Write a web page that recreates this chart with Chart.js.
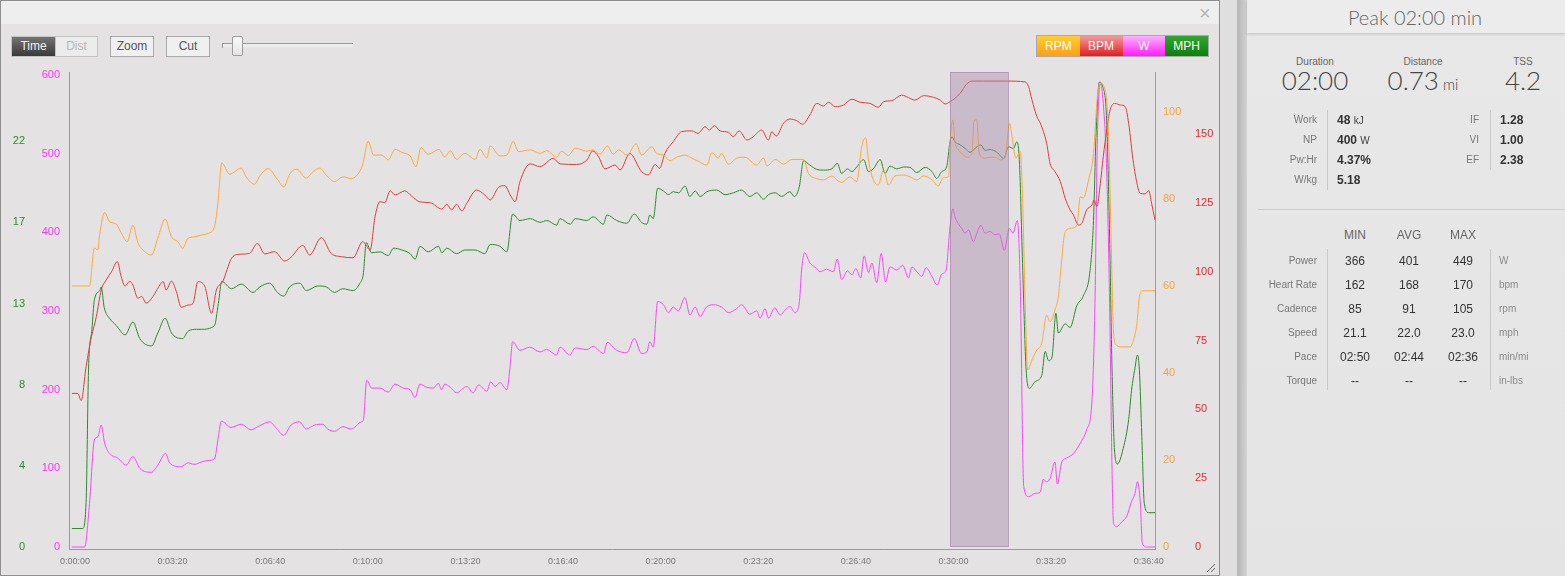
<!DOCTYPE html>
<html>
<head>
<meta charset="utf-8">
<script src="https://cdn.jsdelivr.net/npm/chart.js@4.4.1/dist/chart.umd.min.js"></script>
<style>
  * { box-sizing: border-box; }
  html, body { margin: 0; padding: 0; width: 1565px; height: 576px; overflow: hidden; background: #dedede; font-family: "Liberation Sans", Arial, sans-serif; }
  .abs { position: absolute; }
  .t { position: absolute; white-space: nowrap; line-height: 1; }
  #panel { left: 0; top: 0; width: 1220px; height: 576px; border: 1px solid #8f8f8f; background: #e4e2e3; }
  #topbar { left: 1px; top: 1px; width: 1218px; height: 23px; background: #eeeeee; }
  #closeX { left: 1199px; top: 3px; font-size: 20px; color: #b4b4b4; }
  .btn { position: absolute; top: 36px; height: 21px; width: 44px; font-size: 12px; text-align: center; line-height: 19px; }
  #bTime { left: 11px; background: linear-gradient(#747474, #3a3a3a); color: #f2f2f2; border: 1px solid #c4c4c4; border-right: none; }
  #bDist { left: 55px; width: 43px; background: #ececec; color: #b8b8b8; border: 1px solid #c4c4c4; }
  #bZoom { left: 110px; background: #f0f0f0; color: #555; border: 1px solid #a9a9a9; }
  #bCut { left: 166px; background: #f0f0f0; color: #555; border: 1px solid #a9a9a9; }
  #track { left: 222px; top: 43px; width: 131px; height: 4px; border-top: 1px solid #9a9a9a; background: #ececec; }
  #trackTick { left: 222px; top: 43px; width: 1px; height: 5px; background: #9a9a9a; }
  #handle { left: 232px; top: 36px; width: 11px; height: 20px; background: linear-gradient(#fbfbfb, #e4e4e4); border: 1px solid #9c9c9c; border-radius: 2px; }
  #legend { left: 1036px; top: 35px; width: 173px; height: 22px; border: 1px solid #aaaaaa; display: flex; }
  #legend div { width: 43px; height: 20px; font-size: 12px; color: #ffffff; text-align: center; line-height: 20px; }
  #lgRpm { background: linear-gradient(#ffcd30, #ffa015); }
  #lgBpm { background: linear-gradient(#f29a9a, #e31e1e); }
  #lgW { background: linear-gradient(#ffb0ff, #ff1cff); }
  #lgMph { background: linear-gradient(#2ea82e, #0f7d0f); }
  #grip { left: 1205px; top: 562px; width: 10px; height: 10px; background: repeating-linear-gradient(135deg, transparent 0 2px, #666 2px 3px); clip-path: polygon(100% 0, 100% 100%, 0 100%); }
  #chartBox { left: 0; top: 62px; width: 1219px; height: 513px; }
  #gap { left: 1220px; top: 0; width: 17px; height: 576px; background: #dfdfdf; }
  #strip { left: 1237px; top: 0; width: 10px; height: 576px; background: linear-gradient(to right, #b4b4b4, #d4d4d4); }
  #side { left: 1247px; top: 0; width: 318px; height: 576px; background: linear-gradient(#e8e8e8, #e4e4e4); }
  #sideHead { left: 1247px; top: 0; width: 318px; height: 33px; background: #ececec; box-shadow: 0 1px 3px rgba(0,0,0,0.18); }
  .thin { font-family: "Lato", "Liberation Sans", Arial, sans-serif; font-weight: 300; }
  .lbl { color: #777; font-size: 10px; }
  .big { color: #444; font-size: 26px; }
  .val { color: #333; font-size: 12px; font-weight: bold; }
  .unit { font-size: 10px; font-weight: normal; color: #444; }
  .vl { position: absolute; width: 1px; background: #c9c9c9; }
  .hd { color: #666; font-size: 12px; }
  .cell { color: #333; font-size: 12px; }
  .u { color: #8a8a8a; font-size: 10px; }
</style>
</head>
<body>
<div id="panel" class="abs"></div>
<div id="topbar" class="abs"></div>
<div id="closeX" class="t">×</div>

<div id="bTime" class="btn">Time</div>
<div id="bDist" class="btn">Dist</div>
<div id="bZoom" class="btn">Zoom</div>
<div id="bCut" class="btn">Cut</div>
<div id="track" class="abs"></div>
<div id="trackTick" class="abs"></div>
<div id="handle" class="abs"></div>

<div id="legend" class="abs">
  <div id="lgRpm">RPM</div><div id="lgBpm">BPM</div><div id="lgW">W</div><div id="lgMph">MPH</div>
</div>

<div id="chartBox" class="abs"><canvas id="c" width="1219" height="513"></canvas></div>
<div id="grip" class="abs"></div>

<div id="gap" class="abs"></div>
<div id="strip" class="abs"></div>
<div id="side" class="abs"></div>
<div id="sideHead" class="abs"></div>
<div class="t thin" style="left:1335px;width:160px;text-align:center;top:7px;font-size:20px;color:#666;">Peak 02:00 min</div>

<div class="t lbl" style="left:1265px;width:100px;text-align:center;top:57px;color:#666;">Duration</div>
<div class="t big thin" style="left:1255px;width:120px;text-align:center;top:67px;">02:00</div>
<div class="t lbl" style="left:1373px;width:100px;text-align:center;top:57px;color:#666;">Distance</div>
<div class="t big thin" style="left:1363px;width:120px;text-align:center;top:67px;">0.73<span style="font-size:15px;"> mi</span></div>
<div class="t lbl" style="left:1473px;width:100px;text-align:center;top:57px;color:#666;">TSS</div>
<div class="t big thin" style="left:1463px;width:120px;text-align:center;top:67px;">4.2</div>

<div class="t lbl" style="left:1217px;width:100px;text-align:right;top:115px;">Work</div>
<div class="t lbl" style="left:1217px;width:100px;text-align:right;top:135px;">NP</div>
<div class="t lbl" style="left:1217px;width:100px;text-align:right;top:155px;">Pw:Hr</div>
<div class="t lbl" style="left:1217px;width:100px;text-align:right;top:175px;">W/kg</div>
<div class="vl" style="left:1327px;top:110px;height:80px;"></div>
<div class="t val" style="left:1337px;top:114px;">48 <span class="unit">kJ</span></div>
<div class="t val" style="left:1337px;top:134px;">400 <span class="unit">W</span></div>
<div class="t val" style="left:1337px;top:154px;">4.37%</div>
<div class="t val" style="left:1337px;top:174px;">5.18</div>

<div class="t lbl" style="left:1379px;width:100px;text-align:right;top:115px;">IF</div>
<div class="t lbl" style="left:1379px;width:100px;text-align:right;top:135px;">VI</div>
<div class="t lbl" style="left:1379px;width:100px;text-align:right;top:155px;">EF</div>
<div class="vl" style="left:1490px;top:110px;height:60px;"></div>
<div class="t val" style="left:1500px;top:114px;">1.28</div>
<div class="t val" style="left:1500px;top:134px;">1.00</div>
<div class="t val" style="left:1500px;top:154px;">2.38</div>

<div class="abs" style="left:1258px;top:209px;width:307px;height:1px;background:#cdcdcd;"></div>

<div class="t hd" style="left:1325px;width:60px;text-align:center;top:229px;">MIN</div>
<div class="t hd" style="left:1379px;width:60px;text-align:center;top:229px;">AVG</div>
<div class="t hd" style="left:1433px;width:60px;text-align:center;top:229px;">MAX</div>
<div class="vl" style="left:1327px;top:249px;height:141px;"></div>
<div class="vl" style="left:1490px;top:249px;height:141px;"></div>

<div class="t lbl" style="left:1217px;width:100px;text-align:right;top:256px;">Power</div>
<div class="t cell" style="left:1325px;width:60px;text-align:center;top:255px;">366</div>
<div class="t cell" style="left:1379px;width:60px;text-align:center;top:255px;">401</div>
<div class="t cell" style="left:1433px;width:60px;text-align:center;top:255px;">449</div>
<div class="t u" style="left:1499px;top:256px;">W</div>

<div class="t lbl" style="left:1217px;width:100px;text-align:right;top:280px;">Heart Rate</div>
<div class="t cell" style="left:1325px;width:60px;text-align:center;top:279px;">162</div>
<div class="t cell" style="left:1379px;width:60px;text-align:center;top:279px;">168</div>
<div class="t cell" style="left:1433px;width:60px;text-align:center;top:279px;">170</div>
<div class="t u" style="left:1499px;top:280px;">bpm</div>

<div class="t lbl" style="left:1217px;width:100px;text-align:right;top:304px;">Cadence</div>
<div class="t cell" style="left:1325px;width:60px;text-align:center;top:303px;">85</div>
<div class="t cell" style="left:1379px;width:60px;text-align:center;top:303px;">91</div>
<div class="t cell" style="left:1433px;width:60px;text-align:center;top:303px;">105</div>
<div class="t u" style="left:1499px;top:304px;">rpm</div>

<div class="t lbl" style="left:1217px;width:100px;text-align:right;top:328px;">Speed</div>
<div class="t cell" style="left:1325px;width:60px;text-align:center;top:327px;">21.1</div>
<div class="t cell" style="left:1379px;width:60px;text-align:center;top:327px;">22.0</div>
<div class="t cell" style="left:1433px;width:60px;text-align:center;top:327px;">23.0</div>
<div class="t u" style="left:1499px;top:328px;">mph</div>

<div class="t lbl" style="left:1217px;width:100px;text-align:right;top:352px;">Pace</div>
<div class="t cell" style="left:1325px;width:60px;text-align:center;top:351px;">02:50</div>
<div class="t cell" style="left:1379px;width:60px;text-align:center;top:351px;">02:44</div>
<div class="t cell" style="left:1433px;width:60px;text-align:center;top:351px;">02:36</div>
<div class="t u" style="left:1499px;top:352px;">min/mi</div>

<div class="t lbl" style="left:1217px;width:100px;text-align:right;top:376px;">Torque</div>
<div class="t cell" style="left:1325px;width:60px;text-align:center;top:375px;">--</div>
<div class="t cell" style="left:1379px;width:60px;text-align:center;top:375px;">--</div>
<div class="t cell" style="left:1433px;width:60px;text-align:center;top:375px;">--</div>
<div class="t u" style="left:1499px;top:376px;">in-lbs</div>

<script>
// ---- Data (time in seconds) ----
const xTickValues = [0, 200, 400, 600, 800, 1000, 1200, 1400, 1600, 1800, 2000, 2200];
const xTickLabels = ['0:00:00','0:03:20','0:06:40','0:10:00','0:13:20','0:16:40','0:20:00','0:23:20','0:26:40','0:30:00','0:33:20','0:36:40'];

const wTickValues = [0, 100, 200, 300, 400, 500, 600];
const wTickLabels = ['0','100','200','300','400','500','600'];
const mphTickValues = [0, 4.4, 8.8, 13.2, 17.6, 22];
const mphTickLabels = ['0','4','8','13','17','22'];
const rpmTickValues = [0, 20, 40, 60, 80, 100];
const rpmTickLabels = ['0','20','40','60','80','100'];
const bpmTickValues = [0, 25, 50, 75, 100, 125, 150];
const bpmTickLabels = ['0','25','50','75','100','125','150'];

const peakStartSec = 1799;
const peakLengthSec = 120;

const wTimes = [0,26,36,46,53,60,67,77,94,111,125,139,163,176,192,200,224,238,251,265,279,292,300,306,326,347,367,384,405,419,434,449,466,480,497,514,524,538,555,572,593,597,604,614,631,648,662,679,693,703,713,727,740,751,757,764,775,788,809,822,833,850,858,867,877,891,897,903,918,938,959,973,993,1000,1020,1031,1055,1068,1089,1097,1116,1137,1152,1167,1178,1184,1191,1200,1212,1222,1232,1242,1256,1266,1277,1287,1300,1314,1331,1345,1362,1372,1389,1403,1410,1420,1427,1440,1451,1461,1471,1481,1490,1495,1501,1512,1522,1533,1546,1560,1568,1577,1589,1598,1606,1616,1623,1632,1639,1649,1658,1667,1676,1690,1702,1714,1721,1731,1741,1750,1761,1773,1782,1791,1799,1805,1809,1816,1823,1830,1837,1847,1854,1862,1871,1881,1891,1900,1910,1921,1928,1937,1943,1950,1960,1973,1984,1990,1997,2004,2014,2019,2028,2038,2052,2066,2079,2090,2096,2101,2107,2113,2120,2126,2131,2134,2141,2151,2161,2171,2178,2183,2189,2193,2202,2219];
const wValues = [0,0,55,136,140,155,132,119,113,104,115,100,95,104,119,107,102,107,105,108,110,112,140,160,152,156,149,154,159,151,142,155,159,150,155,156,150,147,153,150,159,161,212,202,202,197,207,202,200,190,207,203,202,208,200,207,203,196,204,196,206,198,210,204,209,200,225,261,250,254,248,251,244,254,244,253,251,255,246,260,250,247,265,246,248,261,254,312,308,298,305,300,317,295,305,293,305,308,305,298,303,308,296,300,291,303,291,304,295,301,306,298,309,352,374,361,356,350,353,350,366,340,351,346,354,342,370,349,361,336,373,337,356,352,358,342,356,350,344,355,345,333,347,352,407,430,420,411,405,399,403,388,399,409,399,401,397,398,377,405,399,415,331,77,64,68,70,86,83,87,108,80,108,113,119,132,149,187,310,521,589,564,479,310,98,30,26,32,39,58,68,83,56,5,0,0];

const rpmTimes = [0,36,46,53,57,67,77,91,101,113,125,135,149,163,176,191,204,217,227,238,251,265,279,292,299,307,323,347,357,374,385,402,421,434,446,460,480,494,508,521,538,555,572,593,597,607,618,635,648,662,676,693,705,715,730,752,764,775,788,805,826,836,850,857,877,891,904,915,939,959,973,993,1003,1017,1031,1055,1068,1082,1097,1109,1120,1137,1156,1167,1188,1198,1212,1225,1239,1256,1270,1283,1301,1311,1324,1331,1345,1362,1379,1403,1417,1424,1441,1458,1475,1499,1509,1526,1540,1557,1567,1577,1594,1608,1618,1626,1632,1639,1652,1663,1673,1686,1704,1717,1731,1745,1762,1775,1785,1796,1799,1805,1809,1816,1823,1833,1844,1848,1854,1859,1871,1881,1891,1902,1912,1921,1926,1934,1943,1948,1953,1958,1967,1977,1987,1997,2004,2014,2021,2026,2035,2049,2059,2066,2072,2083,2093,2101,2107,2117,2124,2129,2133,2137,2151,2168,2175,2182,2187,2194,2219];
const rpmValues = [60,60,68.7,68.3,72,76.9,74.8,74.2,72.2,70.2,74,70,67.9,67.1,71,75.4,71.3,70.2,68.7,71,71.3,71.7,72.1,73.6,79,88.3,85.7,87.1,85.1,83.4,85.3,87,84.5,82.8,85.7,86.9,84.8,86.3,87.1,85.5,84,85.1,84.7,87.1,88.6,93.3,90.1,90.1,89,91.4,90.7,89.9,87.4,91.8,90.3,91.4,89.6,91.1,89.1,90.5,89.1,91.4,89.4,92.2,89.9,90.1,93.3,90.9,91.3,90.5,91.1,89.6,91,90,91.7,91,91.3,90.3,92.2,90.3,91.3,90.1,92.7,90.1,92,90.5,90.1,88.8,89.6,90.1,89.4,88.7,87.8,90.7,89.4,90.5,88,89.4,89.6,87.8,89.4,87.6,89.1,88,89.1,89.1,85.9,84.7,84.4,85.3,84.4,83.8,85.1,84,92,94.1,89,85.3,83.2,86.7,83.2,85.3,85.5,85.1,84.4,85.3,84.4,83,84.9,85.1,92.8,98.2,93.2,91.3,90.5,89.6,90.5,98,98.2,90.5,89.4,89.6,89.6,89,89.6,97.4,94.3,89.4,90.9,79,56,40.7,43,45.3,46.8,53.3,51.8,54.5,57.5,63.7,72.5,73.3,74,80.5,80.2,84.4,90.5,103.5,106.6,105,94.3,71.3,52.2,46.8,46,46,47.6,51.4,57.5,58.9,58.9];

const bpmTimes = [0,12,19,29,40,50,60,70,81,93,101,109,118,125,135,143,152,166,173,187,193,204,214,224,238,248,258,272,286,296,309,327,340,364,380,395,415,436,449,473,487,511,531,552,576,596,600,611,621,631,641,652,662,682,696,713,734,758,768,778,788,799,809,829,846,857,874,887,898,908,918,939,959,986,1000,1034,1055,1067,1079,1092,1113,1123,1143,1167,1181,1195,1204,1215,1232,1249,1270,1283,1297,1306,1316,1328,1345,1355,1367,1383,1396,1413,1427,1434,1443,1458,1471,1485,1497,1512,1526,1540,1550,1564,1581,1598,1615,1635,1652,1663,1680,1700,1714,1727,1745,1765,1779,1789,1799,1809,1820,1833,1844,1868,1915,1953,1960,1967,1977,1984,1997,2004,2014,2025,2035,2045,2052,2062,2069,2079,2090,2094,2100,2107,2113,2120,2127,2137,2148,2158,2165,2175,2189,2199,2206,2212,2219];
const bpmValues = [55.8,55.8,53.2,65.5,76.4,83.7,93.4,97,100,103.7,98.2,94.8,96.5,95.2,90.4,91,88.6,91,93.1,96.4,93.4,96.6,92.8,87.1,87.9,88.5,96.4,94.8,84.9,93.4,96.5,104.9,106.3,106.7,110.3,106.5,107.3,103.9,105.3,109.6,106.1,112.4,106.7,105.5,105.1,111,110.3,107.9,120,125.5,125.1,129.4,127.9,129.4,127.5,125.4,125.1,122.8,124.5,122.5,124.5,122.1,124.9,129.7,127.9,126.1,130.7,131.3,127.9,125.5,132.8,139.2,138.2,141.2,139.2,139,140.6,143.9,141.8,137.4,138.8,137,143,136.4,135.2,139,137.6,143.1,147.3,150.9,151.2,150.3,152.7,151.5,153.1,151.2,150.7,149.1,151.2,147.9,149.1,151.5,147.9,150.9,149.3,154,155.5,154.9,153.6,157,161.2,160.2,161.6,160,160.6,162.7,161.6,161.2,159.8,161.8,162.2,164.2,163.3,162.4,164,163.4,162.4,161,161.8,163,164.9,168.2,169.3,169.3,169.3,169,167.3,162.4,156.4,154,146.7,139.4,136.4,132.8,126.7,122.5,120.6,117,117.6,122.5,124.3,126.1,123.7,132.1,141.8,151.5,158.8,161.2,160.6,160,154,139.4,128.5,128.3,129.5,124.9,118.8];

const mphTimes = [0,22,29,34,41,46,57,60,66,77,91,109,125,139,163,176,191,204,227,238,255,265,292,300,307,327,347,371,385,405,421,434,446,467,480,504,521,538,555,576,590,597,603,614,631,648,659,676,693,703,713,730,751,758,768,788,805,826,846,857,877,891,903,918,939,959,973,993,1000,1021,1031,1055,1068,1089,1096,1116,1137,1152,1167,1178,1184,1191,1200,1212,1222,1232,1243,1256,1266,1277,1287,1301,1321,1338,1355,1372,1389,1403,1417,1427,1441,1454,1471,1480,1490,1499,1512,1526,1540,1557,1568,1577,1589,1598,1608,1622,1632,1642,1656,1666,1676,1690,1704,1717,1731,1748,1762,1772,1782,1792,1799,1803,1809,1820,1830,1840,1850,1862,1871,1881,1895,1909,1919,1929,1936,1941,1948,1955,1962,1973,1987,1994,2001,2008,2016,2021,2035,2045,2059,2072,2086,2093,2098,2105,2112,2120,2126,2131,2136,2142,2154,2165,2171,2178,2183,2187,2192,2197,2206,2219];
const mphValues = [1,1,2.4,9.6,11.8,13.4,13.9,14.1,13,12.4,12,11.5,12.2,11.3,10.9,11.6,12.4,11.6,11.3,11.7,11.8,11.8,12,13.2,14.4,14,14.25,13.8,14.1,14.3,13.8,13.6,14.1,14.3,13.9,14.15,14.1,13.8,14,13.9,14.3,14.8,16.5,15.95,16,15.8,16.2,16.1,15.9,15.6,16.3,16,16.3,15.95,16.2,15.9,16.1,16.1,15.9,16.4,16.3,16,18.05,17.7,17.8,17.6,17.7,17.45,17.8,17.5,17.8,17.7,17.9,17.5,18,17.7,17.55,18.05,17.6,17.5,18,17.8,19.44,19.3,19.1,19.26,19.2,19.57,19,19.3,19,19.26,19.35,19.1,19.2,19.35,19,19.2,18.85,19.1,19.2,19,19.26,19,19.5,20.94,20.7,20.47,20.43,20.5,20.8,20.25,20.5,20.35,20.6,21,20.35,20.5,21,20.25,20.65,20.5,20.6,20.58,20.3,20.58,20.35,19.98,20.35,20.6,21.97,22.24,21.97,21.8,21.6,21.4,21.6,21.8,21.5,21.55,21.4,21.07,21.7,21.6,21.97,21,15,9.6,8.6,8.96,9.3,10.6,10.1,10.3,12.67,11.6,12.1,11.9,13.1,13.6,15,17.7,22.2,25.2,24.95,23.1,16.8,9.6,5.26,4.5,5.35,6.9,8.5,9.7,10.4,9.6,6,2.37,1.86,1.86];

// ---- Chart ----
function pts(times, values) { return times.map((t, i) => ({ x: t, y: values[i] })); }
function fixedTicks(values) { return scale => { scale.ticks = values.map(v => ({ value: v })); }; }
function fixWidth(w) { return s => { s.width = w; s.paddingTop = 0; s.paddingBottom = 0; }; }
const tickFont = { family: 'Liberation Sans, Arial, sans-serif', size: 11 };

const peakBand = {
  id: 'peakBand',
  afterDatasetsDraw(chart) {
    const { ctx, chartArea, scales } = chart;
    const x0 = scales.x.getPixelForValue(peakStartSec);
    const x1 = scales.x.getPixelForValue(peakStartSec + peakLengthSec);
    const yBot = scales.yW.getPixelForValue(0);
    const yTop = chartArea.top;
    ctx.save();
    ctx.fillStyle = 'rgba(170,140,170,0.45)';
    ctx.fillRect(x0, yTop, x1 - x0, yBot - yTop);
    ctx.strokeStyle = 'rgba(150,115,150,0.45)';
    ctx.lineWidth = 1;
    ctx.strokeRect(Math.round(x0) + 0.5, Math.round(yTop) + 0.5, Math.round(x1 - x0) - 1, Math.round(yBot - yTop) - 1);
    ctx.restore();
  }
};

const lineCommon = { borderWidth: 1, pointRadius: 0, pointHoverRadius: 0, fill: false, cubicInterpolationMode: 'monotone' };

new Chart(document.getElementById('c'), {
  type: 'line',
  data: {
    datasets: [
      Object.assign({ label: 'RPM', data: pts(rpmTimes, rpmValues), borderColor: '#ffa838', yAxisID: 'yRpm' }, lineCommon),
      Object.assign({ label: 'BPM', data: pts(bpmTimes, bpmValues), borderColor: '#e23b3b', yAxisID: 'yBpm' }, lineCommon),
      Object.assign({ label: 'W', data: pts(wTimes, wValues), borderColor: '#ff44ff', yAxisID: 'yW' }, lineCommon),
      Object.assign({ label: 'MPH', data: pts(mphTimes, mphValues), borderColor: '#2b8c2b', yAxisID: 'yMph' }, lineCommon)
    ]
  },
  options: {
    responsive: false,
    animation: false,
    events: [],
    layout: { padding: { top: 10, left: 0, right: 0, bottom: 0 } },
    plugins: { legend: { display: false }, tooltip: { enabled: false } },
    scales: {
      x: {
        type: 'linear', min: -6, max: 2219, bounds: 'data',
        afterBuildTicks: fixedTicks(xTickValues),
        afterFit: s => { s.height = 26; },
        grid: { display: false, drawTicks: false },
        border: { display: true, color: '#9a9a9a', width: 1 },
        ticks: { autoSkip: false, maxRotation: 0, padding: 7, labelOffset: 3, color: '#7a7a7a',
                 font: { family: 'Liberation Sans, Arial, sans-serif', size: 9 },
                 callback: (v, i) => xTickLabels[i] }
      },
      yW: {
        type: 'linear', position: 'left', min: -2.54, max: 603.8, bounds: 'data',
        afterBuildTicks: fixedTicks(wTickValues),
        afterFit: fixWidth(41),
        grid: { display: false, drawTicks: false },
        border: { display: true, color: '#9a9a9a', width: 1 },
        ticks: { padding: 9, color: '#ff33ff', font: tickFont, callback: (v, i) => wTickLabels[i] }
      },
      yMph: {
        type: 'linear', position: 'left', min: -0.11, max: 25.75, bounds: 'data',
        afterBuildTicks: fixedTicks(mphTickValues),
        afterFit: fixWidth(28),
        grid: { display: false, drawTicks: false },
        border: { display: false },
        ticks: { padding: 3, color: '#2e8b2e', font: tickFont, callback: (v, i) => mphTickLabels[i] }
      },
      yRpm: {
        type: 'linear', position: 'right', min: -0.46, max: 109.2, bounds: 'data',
        afterBuildTicks: fixedTicks(rpmTickValues),
        afterFit: fixWidth(32),
        grid: { display: false, drawTicks: false },
        border: { display: true, color: '#9a9a9a', width: 1 },
        ticks: { padding: 8, color: '#f6a63a', font: tickFont, callback: (v, i) => rpmTickLabels[i] }
      },
      yBpm: {
        type: 'linear', position: 'right', min: -0.73, max: 172.6, bounds: 'data',
        afterBuildTicks: fixedTicks(bpmTickValues),
        afterFit: fixWidth(32),
        grid: { display: false, drawTicks: false },
        border: { display: false },
        ticks: { padding: 8, color: '#e5292e', font: tickFont, callback: (v, i) => bpmTickLabels[i] }
      }
    }
  },
  plugins: [peakBand]
});
</script>
</body>
</html>
